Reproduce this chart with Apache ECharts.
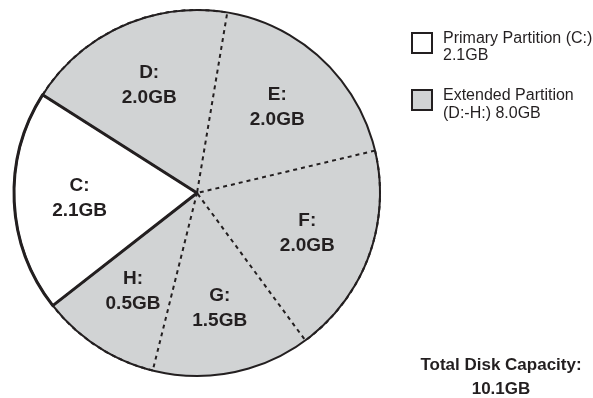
<!DOCTYPE html>
<html>
<head>
<meta charset="utf-8">
<script src="https://cdn.jsdelivr.net/npm/echarts@6/dist/echarts.min.js"></script>
<style>
  html, body { margin: 0; padding: 0; background: #fff; }
  #chart { width: 593px; height: 398px; }
</style>
</head>
<body>
<div id="chart"></div>
<script>
// partition data (GB)
const drives = ['C', 'D', 'E', 'F', 'G', 'H'];
const sizesGB = [2.1, 2.0, 2.0, 2.0, 1.5, 0.5];
const primaryDrives = ['C'];
const legendNames = ['Primary Partition', 'Extended Partition'];
const totalTitle = 'Total Disk Capacity:';

const ink = '#231f20';
const grey = '#d1d3d4';
const clear = 'rgba(0,0,0,0)';
const font = 'Liberation Sans, Arial, Helvetica, sans-serif';
const pieCenter = [197, 193];
const pieRadius = 183;
const startAngle = 218;
const minAngle = 38;

const isPrimary = name => primaryDrives.indexOf(name) >= 0;
const gb = v => v.toFixed(1) + 'GB';

const primarySize = drives.reduce((s, d, i) => s + (isPrimary(d) ? sizesGB[i] : 0), 0);
const extendedSize = drives.reduce((s, d, i) => s + (isPrimary(d) ? 0 : sizesGB[i]), 0);
const extFirst = drives.find(d => !isPrimary(d));
const extLast = drives.filter(d => !isPrimary(d)).pop();
const total = primarySize + extendedSize;

const fillData = drives.map((d, i) => ({
  name: d,
  value: sizesGB[i],
  itemStyle: { color: isPrimary(d) ? '#fff' : grey, borderWidth: 0 }
}));

// dashed separators: every other extended slice strokes its two edges, so each edge is drawn once
const dashData = drives.map((d, i) => ({
  name: d,
  value: sizesGB[i],
  itemStyle: {
    color: clear,
    borderColor: ink,
    borderWidth: (!isPrimary(d) && i % 2 === 1) ? 2 : 0,
    borderType: [4, 4]
  }
}));

const primaryEdge = drives.map((d, i) => ({
  name: d,
  value: sizesGB[i],
  itemStyle: isPrimary(d)
    ? { color: clear, borderColor: ink, borderWidth: 3 }
    : { color: clear, borderWidth: 0 }
}));

const labelData = drives.map((d, i) => ({ name: d, value: sizesGB[i] }));

const common = {
  type: 'pie',
  center: pieCenter,
  radius: pieRadius,
  startAngle: startAngle,
  clockwise: true,
  minAngle: minAngle,
  avoidLabelOverlap: false,
  silent: true,
  animation: false,
  emphasis: { disabled: true },
  labelLine: { show: false },
  label: { show: false }
};

const option = {
  backgroundColor: '#fff',
  series: [
    Object.assign({}, common, { data: fillData }),
    Object.assign({}, common, { data: dashData }),
    Object.assign({}, common, {
      minAngle: 0,
      data: [{ name: 'disk', value: total }],
      itemStyle: { color: clear, borderColor: ink, borderWidth: 2 }
    }),
    Object.assign({}, common, { data: primaryEdge }),
    Object.assign({}, common, {
      radius: [46, pieRadius],
      data: labelData,
      itemStyle: { color: clear, borderWidth: 0 },
      label: {
        show: true,
        position: 'inside',
        rotate: 0,
        color: ink,
        fontFamily: font,
        fontWeight: 'bold',
        fontSize: 19,
        lineHeight: 25,
        formatter: p => p.name + ':\n' + gb(p.value)
      }
    })
  ],
  graphic: [
    {
      type: 'rect', left: 411, top: 32,
      shape: { width: 20, height: 20 },
      style: { fill: '#fff', stroke: ink, lineWidth: 2 }
    },
    {
      type: 'text', left: 443, top: 30,
      style: {
        text: legendNames[0] + ' (' + primaryDrives[0] + ':)\n' + gb(primarySize),
        fill: ink, font: '16px ' + font, lineHeight: 17
      }
    },
    {
      type: 'rect', left: 411, top: 89,
      shape: { width: 20, height: 20 },
      style: { fill: grey, stroke: ink, lineWidth: 2 }
    },
    {
      type: 'text', left: 443, top: 87,
      style: {
        text: legendNames[1] + '\n(' + extFirst + ':-' + extLast + ':) ' + gb(extendedSize),
        fill: ink, font: '16px ' + font, lineHeight: 18
      }
    },
    {
      type: 'text', x: 501, y: 353,
      style: {
        text: totalTitle + '\n' + gb(total),
        fill: ink, font: 'bold 17px ' + font, lineHeight: 24, align: 'center'
      }
    }
  ]
};

const chart = echarts.init(document.getElementById('chart'), null, { renderer: 'canvas' });
chart.setOption(option);
</script>
</body>
</html>
